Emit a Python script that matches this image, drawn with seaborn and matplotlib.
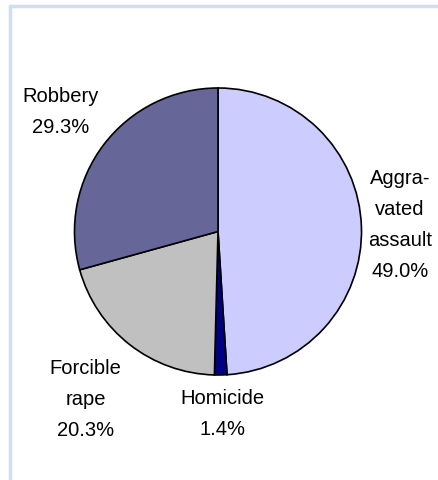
import matplotlib
matplotlib.use("Agg")
import matplotlib.pyplot as plt
import seaborn as sns
from matplotlib.lines import Line2D

# Share of violent crimes by offense type
categories = ["Aggra-\nvated\nassault", "Homicide", "Forcible\nrape", "Robbery"]
shares = [49.0, 1.4, 20.3, 29.3]
colors = ["#CCCCFF", "#000080", "#C0C0C0", "#666699"]

sns.set_style("white")
plt.rcParams["font.family"] = ["Liberation Sans", "DejaVu Sans"]

W, H = 439, 481
fig = plt.figure(figsize=(W / 100, H / 100), dpi=100)
ax = fig.add_axes([0, 0, 1, 1])

# Pie in pixel-like coordinates (y measured from the bottom)
cx, cy, r = 218, H - 232.5, 143.5
ax.pie(shares, colors=colors, startangle=90, counterclock=False,
       center=(cx, cy), radius=r, frame=True,
       wedgeprops=dict(edgecolor="black", linewidth=1.2))
ax.set_xlim(0, W)
ax.set_ylim(0, H)
ax.set_aspect("equal")
ax.axis("off")

# Category labels with percentages
label_pos = [(400, H - 225), (222.5, H - 414), (85.5, H - 400), (61, H - 112)]
for name, val, (x, y) in zip(categories, shares, label_pos):
    ax.text(x, y, f"{name}\n{val:.1f}%", ha="center", va="center",
            fontsize=14.5, linespacing=1.8, color="black")

# Light frame on the left and top edges
frame_color = "#D0DEEE"
fig.add_artist(Line2D([10 / W, 1], [1 - 7 / H, 1 - 7 / H],
                      transform=fig.transFigure, color=frame_color, lw=2.5))
fig.add_artist(Line2D([10 / W, 10 / W], [0, 1 - 7 / H],
                      transform=fig.transFigure, color=frame_color, lw=2.5))

fig.savefig("out.png", dpi=100)
